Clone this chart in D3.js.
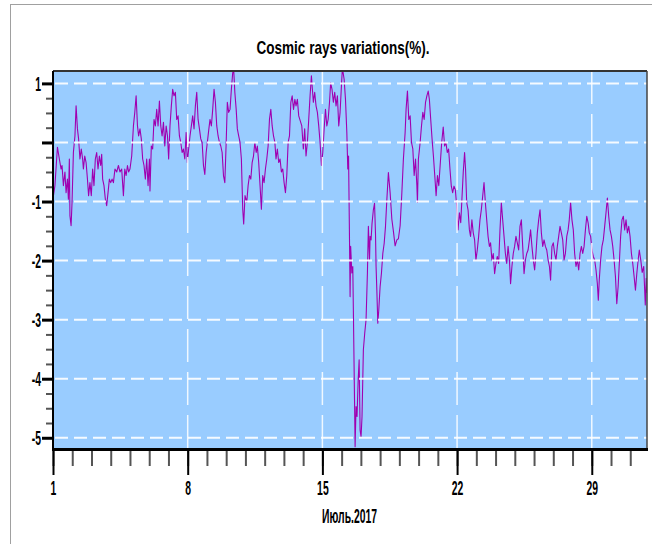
<html>
<head>
<title>Cosmic rays</title>
<script src="https://d3js.org/d3.v7.min.js"></script>
<style>
body { margin: 0; background: #fff; }
text { font-family: "Liberation Sans", Arial, sans-serif; fill: #000; }
</style>
</head>
<body>
<script>
// time in days of July 2017 (fractional), and variation in %
var days = [
  1.00, 1.10, 1.23, 1.33, 1.42, 1.47, 1.54, 1.62, 1.68, 1.75,
  1.80, 1.85, 1.88, 1.94, 1.99, 2.06, 2.14, 2.20, 2.27, 2.33,
  2.40, 2.47, 2.54, 2.58, 2.65, 2.72, 2.79, 2.85, 2.92, 2.99,
  3.06, 3.13, 3.20, 3.27, 3.34, 3.41, 3.48, 3.53, 3.58, 3.65,
  3.72, 3.79, 3.86, 3.93, 4.00, 4.07, 4.14, 4.22, 4.31, 4.40,
  4.48, 4.57, 4.66, 4.73, 4.80, 4.87, 4.93, 5.00, 5.09, 5.18,
  5.25, 5.32, 5.39, 5.45, 5.52, 5.59, 5.66, 5.73, 5.80, 5.87,
  5.94, 6.01, 6.04, 6.11, 6.18, 6.25, 6.32, 6.39, 6.46, 6.53,
  6.60, 6.67, 6.74, 6.81, 6.88, 6.95, 7.01, 7.08, 7.15, 7.22,
  7.29, 7.36, 7.43, 7.50, 7.57, 7.64, 7.71, 7.78, 7.85, 7.92,
  7.98, 8.05, 8.12, 8.19, 8.26, 8.33, 8.40, 8.47, 8.54, 8.61,
  8.68, 8.75, 8.82, 8.89, 8.96, 9.02, 9.09, 9.16, 9.23, 9.30,
  9.37, 9.44, 9.51, 9.58, 9.65, 9.72, 9.79, 9.86, 9.93, 10.00,
  10.06, 10.13, 10.20, 10.27, 10.34, 10.39, 10.45, 10.52, 10.58, 10.65,
  10.72, 10.79, 10.86, 10.91, 10.98, 11.07, 11.14, 11.21, 11.28, 11.35,
  11.42, 11.49, 11.56, 11.62, 11.69, 11.76, 11.83, 11.90, 11.97, 12.04,
  12.11, 12.18, 12.25, 12.32, 12.39, 12.46, 12.53, 12.59, 12.66, 12.73,
  12.80, 12.87, 12.94, 13.01, 13.08, 13.15, 13.22, 13.29, 13.36, 13.43,
  13.50, 13.57, 13.63, 13.70, 13.77, 13.93, 14.01, 14.08, 14.15, 14.22,
  14.29, 14.36, 14.43, 14.48, 14.53, 14.60, 14.67, 14.74, 14.81, 14.88,
  14.95, 15.02, 15.09, 15.16, 15.23, 15.30, 15.37, 15.43, 15.50, 15.57,
  15.64, 15.71, 15.78, 15.85, 15.92, 15.99, 16.04, 16.13, 16.20, 16.27,
  16.32, 16.36, 16.40, 16.44, 16.47, 16.53, 16.58, 16.61, 16.67, 16.70,
  16.75, 16.80, 16.86, 16.91, 16.96, 17.01, 17.06, 17.13, 17.20, 17.27,
  17.34, 17.39, 17.45, 17.48, 17.53, 17.58, 17.65, 17.71, 17.76, 17.79,
  17.83, 17.88, 17.93, 18.00, 18.07, 18.14, 18.21, 18.28, 18.35, 18.43,
  18.52, 18.61, 18.69, 18.78, 18.87, 18.95, 19.04, 19.13, 19.21, 19.30,
  19.35, 19.42, 19.49, 19.56, 19.63, 19.70, 19.77, 19.84, 19.91, 19.94,
  19.99, 20.08, 20.15, 20.22, 20.29, 20.36, 20.43, 20.50, 20.56, 20.63,
  20.70, 20.77, 20.84, 20.91, 20.98, 21.05, 21.12, 21.20, 21.28, 21.35,
  21.42, 21.49, 21.56, 21.63, 21.70, 21.77, 21.84, 21.91, 21.98, 22.05,
  22.12, 22.19, 22.25, 22.32, 22.39, 22.44, 22.50, 22.57, 22.64, 22.70,
  22.77, 22.84, 22.91, 22.98, 23.05, 23.12, 23.19, 23.26, 23.33, 23.40,
  23.47, 23.54, 23.61, 23.68, 23.74, 23.81, 23.88, 23.95, 24.02, 24.09,
  24.16, 24.23, 24.30, 24.37, 24.44, 24.51, 24.58, 24.65, 24.72, 24.78,
  24.85, 24.92, 24.99, 25.06, 25.13, 25.20, 25.27, 25.34, 25.41, 25.48,
  25.55, 25.62, 25.69, 25.76, 25.82, 25.89, 25.96, 26.03, 26.10, 26.17,
  26.24, 26.31, 26.38, 26.45, 26.52, 26.59, 26.66, 26.73, 26.80, 26.86,
  26.93, 27.00, 27.07, 27.14, 27.21, 27.28, 27.35, 27.42, 27.49, 27.56,
  27.63, 27.70, 27.77, 27.83, 27.90, 27.97, 28.04, 28.11, 28.18, 28.25,
  28.32, 28.39, 28.46, 28.53, 28.60, 28.67, 28.74, 28.81, 28.87, 28.94,
  29.01, 29.08, 29.15, 29.22, 29.29, 29.34, 29.39, 29.46, 29.53, 29.60,
  29.67, 29.74, 29.81, 29.88, 29.95, 30.02, 30.09, 30.16, 30.23, 30.30,
  30.37, 30.43, 30.50, 30.57, 30.64, 30.71, 30.78, 30.85, 30.92, 30.99,
  31.06, 31.13, 31.20, 31.27, 31.34, 31.41, 31.47, 31.55, 31.62, 31.70,
  31.78, 31.83, 31.87
];

var values = [
  -0.95, -0.73, -0.08, -0.28, -0.45, -0.39, -0.73, -0.50, -0.85, -0.62,
  -0.96, -0.28, -1.24, -1.41, -1.01, -0.17, 0.11, 0.62, 0.23, 0.06,
  -0.28, -0.11, -0.28, -0.45, -0.23, -0.34, -0.62, -0.90, -0.68, -0.90,
  -0.45, -0.73, -0.28, -0.17, -0.45, -0.23, -0.39, -0.20, -0.62, -0.73,
  -0.96, -1.07, -0.85, -0.62, -0.68, -0.62, -0.68, -0.45, -0.50, -0.39,
  -0.50, -0.45, -0.90, -0.45, -0.56, -0.39, -0.50, -0.45, -0.23, 0.28,
  0.51, 0.79, 0.28, 0.11, 0.23, 0.06, -0.28, -0.39, -0.62, -0.28,
  -0.73, -0.28, -0.82, -0.06, -0.11, 0.39, 0.28, 0.56, 0.28, 0.70,
  0.28, 0.11, 0.34, -0.06, 0.28, 0.11, -0.28, 0.28, 0.62, 0.90,
  0.79, 0.85, 0.39, 0.45, 0.11, 0.00, -0.17, -0.11, -0.28, 0.17,
  -0.34, -0.11, 0.11, 0.28, 0.45, 0.23, 0.62, 0.85, 0.39, 0.23,
  0.06, 0.00, -0.39, -0.54, -0.17, 0.00, 0.20, 0.39, 0.28, 0.56,
  0.90, 0.68, 0.28, 0.11, 0.00, -0.06, -0.17, -0.56, -0.68, 0.00,
  0.68, 0.51, 0.56, 0.90, 1.18, 1.24, 0.85, 0.56, 0.23, 0.11,
  0.00, -0.28, -1.13, -1.38, -0.90, -1.01, -0.73, -0.56, -0.62, -0.34,
  -0.23, 0.00, -0.17, -0.06, -0.34, -0.73, -1.13, -0.56, -0.68, -0.45,
  -0.28, -0.06, 0.39, 0.56, 0.28, 0.11, 0.00, -0.28, -0.11, -0.34,
  -0.28, -0.50, -0.45, -0.68, -0.85, -0.56, 0.00, 0.11, 0.68, 0.79,
  0.56, 0.73, 0.62, 0.73, 0.45, 0.28, -0.11, 0.23, -0.23, 0.00,
  0.39, 0.79, 1.13, 0.90, 0.68, 0.85, 0.62, 0.51, 0.28, 0.00,
  -0.39, -0.17, 0.23, 0.56, 0.28, 0.39, 0.68, 1.01, 0.90, 0.68,
  0.85, 0.62, 0.79, 0.28, 0.51, 0.96, 1.26, 1.07, 0.73, 0.17,
  -0.45, -0.23, -1.37, -2.61, -1.76, -2.21, -2.10, -2.84, -4.36, -5.15,
  -4.47, -4.64, -4.02, -3.68, -4.87, -4.98, -4.64, -3.51, -3.23, -3.00,
  -2.21, -1.42, -1.99, -1.59, -1.65, -1.37, -1.14, -1.03, -1.54, -2.10,
  -2.50, -3.06, -2.84, -2.44, -2.21, -1.88, -1.71, -1.42, -0.97, -0.51,
  -0.85, -1.30, -1.50, -1.75, -1.65, -1.63, -1.41, -0.85, -0.28, 0.17,
  0.56, 0.87, 0.39, 0.45, 0.00, -0.11, -0.56, -0.28, -0.73, -1.01,
  -0.28, 0.00, 0.28, 0.51, 0.39, 0.68, 0.79, 0.87, 0.73, 0.39,
  0.06, -0.23, -0.56, -0.90, -0.56, -0.73, -0.39, 0.00, 0.26, -0.06,
  0.00, -0.17, -0.11, -0.45, -0.74, -0.85, -0.74, -0.80, -1.08, -1.48,
  -1.19, -1.36, -0.97, -0.51, -0.17, -0.45, -1.02, -1.14, -1.48, -1.59,
  -1.31, -1.53, -1.65, -1.99, -1.82, -1.59, -1.31, -1.14, -0.91, -0.68,
  -1.02, -1.31, -1.59, -1.76, -1.70, -1.99, -1.88, -2.22, -2.05, -1.93,
  -2.05, -1.48, -1.02, -1.31, -1.59, -1.88, -2.05, -1.76, -1.99, -2.39,
  -2.10, -1.88, -1.76, -1.59, -1.70, -1.82, -1.42, -1.31, -1.76, -2.22,
  -1.99, -1.88, -1.82, -1.65, -1.48, -1.76, -1.99, -2.16, -1.88, -1.53,
  -1.31, -1.14, -1.53, -1.76, -1.65, -1.76, -1.82, -1.99, -2.10, -2.33,
  -1.76, -1.70, -1.88, -1.99, -1.76, -1.59, -1.42, -1.53, -1.65, -1.99,
  -1.88, -1.59, -1.48, -1.31, -1.02, -1.31, -1.48, -1.88, -2.10, -1.99,
  -2.16, -1.88, -1.76, -1.88, -1.76, -1.48, -1.25, -1.36, -1.53, -1.59,
  -1.82, -1.93, -1.99, -2.16, -2.39, -2.67, -2.33, -1.99, -1.76, -1.65,
  -1.42, -1.19, -0.94, -1.25, -1.48, -1.59, -1.76, -1.99, -2.27, -2.73,
  -2.44, -2.05, -1.59, -1.31, -1.25, -1.48, -1.31, -1.53, -1.42, -1.59,
  -1.88, -2.05, -2.27, -2.50, -2.22, -1.99, -1.82, -2.00, -2.20, -2.10,
  -2.75, -2.30, -2.55
];

var yTicks = [1, 0, -1, -2, -3, -4, -5];
var yTickLabels = ["1", "", "-1", "-2", "-3", "-4", "-5"];
var xTicks = [1, 8, 15, 22, 29];
var xTickLabels = ["1", "8", "15", "22", "29"];
var titleText = "Cosmic rays variations(%).";
var xTitleText = "Июль.2017";

var width = 652;
var height = 544;
var plot = { l: 53, r: 647, t: 71, b: 449 };
var sx = 0.52; // narrow glyphs
var tickFont = 20;

var x = d3.scaleLinear().domain([1, 31.87]).range([plot.l, plot.r]);
var y = d3.scaleLinear().domain([-5.19, 1.21]).range([plot.b, plot.t]);

var svg = d3.select('body').append('svg')
  .attr('width', width)
  .attr('height', height);

svg.append('rect').attr('width', width).attr('height', height).attr('fill', '#fff');

// outer frame
svg.append('rect')
  .attr('x', 10.5).attr('y', 4.5)
  .attr('width', 700).attr('height', 600)
  .attr('fill', 'none').attr('stroke', '#a0a0a0');

// plot background
svg.append('rect')
  .attr('x', plot.l).attr('y', plot.t)
  .attr('width', plot.r - plot.l).attr('height', plot.b - plot.t)
  .attr('fill', '#99ccff');

svg.append('clipPath').attr('id', 'clip')
  .append('rect')
  .attr('x', plot.l).attr('y', plot.t)
  .attr('width', plot.r - plot.l).attr('height', plot.b - plot.t);

// data line
var line = d3.line()
  .x(function(d) { return x(d[0]); })
  .y(function(d) { return y(d[1]); });

svg.append('path')
  .datum(d3.zip(days, values))
  .attr('clip-path', 'url(#clip)')
  .attr('fill', 'none')
  .attr('stroke', '#a000b0')
  .attr('stroke-width', 1.1)
  .attr('stroke-linejoin', 'round')
  .attr('d', line);

// grid
svg.append('g').selectAll('line')
  .data(yTicks)
  .enter().append('line')
    .attr('x1', plot.l + 2).attr('x2', plot.r)
    .attr('y1', function(d) { return y(d); })
    .attr('y2', function(d) { return y(d); })
    .attr('stroke', '#fff')
    .attr('stroke-opacity', 0.9)
    .attr('stroke-width', 2)
    .attr('stroke-dasharray', '13,6');

svg.append('g').selectAll('line')
  .data(xTicks.slice(1))
  .enter().append('line')
    .attr('x1', function(d) { return x(d); })
    .attr('x2', function(d) { return x(d); })
    .attr('y1', plot.t).attr('y2', plot.b)
    .attr('stroke', '#fff')
    .attr('stroke-opacity', 0.85)
    .attr('stroke-width', 1.5)
    .attr('stroke-dasharray', '33,10');

// frame of the plot
svg.append('line').attr('x1', plot.l).attr('x2', plot.r).attr('y1', plot.t).attr('y2', plot.t)
  .attr('stroke', '#333').attr('stroke-width', 2);
svg.append('line').attr('x1', plot.r).attr('x2', plot.r).attr('y1', plot.t).attr('y2', plot.b)
  .attr('stroke', '#444').attr('stroke-width', 1.5);

// y axis, minor then major
var yMinor = d3.range(-5, 1.01, 0.25).filter(function(v) { return v % 1 !== 0; });

svg.append('g')
  .attr('transform', 'translate(' + (plot.l - 1) + ',0)')
  .call(d3.axisLeft(y).tickValues(yMinor).tickSize(6).tickFormat(''))
  .call(function(g) {
    g.select('.domain').remove();
    g.selectAll('line').attr('stroke', '#555').attr('stroke-width', 2);
  });

svg.append('g')
  .attr('transform', 'translate(' + plot.l + ',0)')
  .call(d3.axisLeft(y).tickValues(yTicks).tickSize(11).tickPadding(2)
    .tickFormat(function(d) { return yTickLabels[yTicks.indexOf(d)]; }))
  .call(function(g) {
    g.select('.domain').remove();
    g.selectAll('line').attr('stroke', '#000').attr('stroke-width', 3);
    g.selectAll('text')
      .attr('font-family', '"Liberation Sans", Arial, sans-serif')
      .attr('font-size', tickFont)
      .attr('font-weight', 'bold')
      .attr('fill', '#000')
      .attr('x', -12 / sx)
      .attr('dy', '0.35em')
      .attr('transform', 'scale(' + sx + ',1)');
  });

svg.append('line').attr('x1', plot.l).attr('x2', plot.l).attr('y1', plot.t).attr('y2', plot.b + 2)
  .attr('stroke', '#000').attr('stroke-width', 2);

// x axis, minor then major
var xMinor = d3.range(1, 32);

svg.append('g')
  .attr('transform', 'translate(0,' + plot.b + ')')
  .call(d3.axisBottom(x).tickValues(xMinor).tickSize(17).tickFormat(''))
  .call(function(g) {
    g.select('.domain').remove();
    g.selectAll('line').attr('stroke', '#555').attr('stroke-width', 2);
  });

svg.append('g')
  .attr('transform', 'translate(0,' + plot.b + ')')
  .call(d3.axisBottom(x).tickValues(xTicks).tickSize(26)
    .tickFormat(function(d) { return xTickLabels[xTicks.indexOf(d)]; }))
  .call(function(g) {
    g.select('.domain').remove();
    g.selectAll('line').attr('stroke', '#000').attr('stroke-width', 2);
    g.selectAll('text')
      .attr('font-family', '"Liberation Sans", Arial, sans-serif')
      .attr('font-size', tickFont)
      .attr('font-weight', 'bold')
      .attr('fill', '#000')
      .attr('y', 46)
      .attr('dy', 0)
      .attr('transform', 'scale(' + sx + ',1)')
      .attr('x', 0);
  });

svg.append('line').attr('x1', plot.l - 1).attr('x2', plot.r + 1).attr('y1', plot.b + 0.5).attr('y2', plot.b + 0.5)
  .attr('stroke', '#000').attr('stroke-width', 3);

// titles
svg.append('text')
  .attr('x', 256.5).attr('y', 53.5)
  .attr('font-size', 19)
  .attr('font-weight', 'bold')
  .attr('textLength', 173)
  .attr('lengthAdjust', 'spacingAndGlyphs')
  .text(titleText);

svg.append('text')
  .attr('x', 322).attr('y', 523)
  .attr('font-size', 21)
  .attr('font-weight', 'bold')
  .attr('textLength', 55)
  .attr('lengthAdjust', 'spacingAndGlyphs')
  .text(xTitleText);
</script>
</body>
</html>
